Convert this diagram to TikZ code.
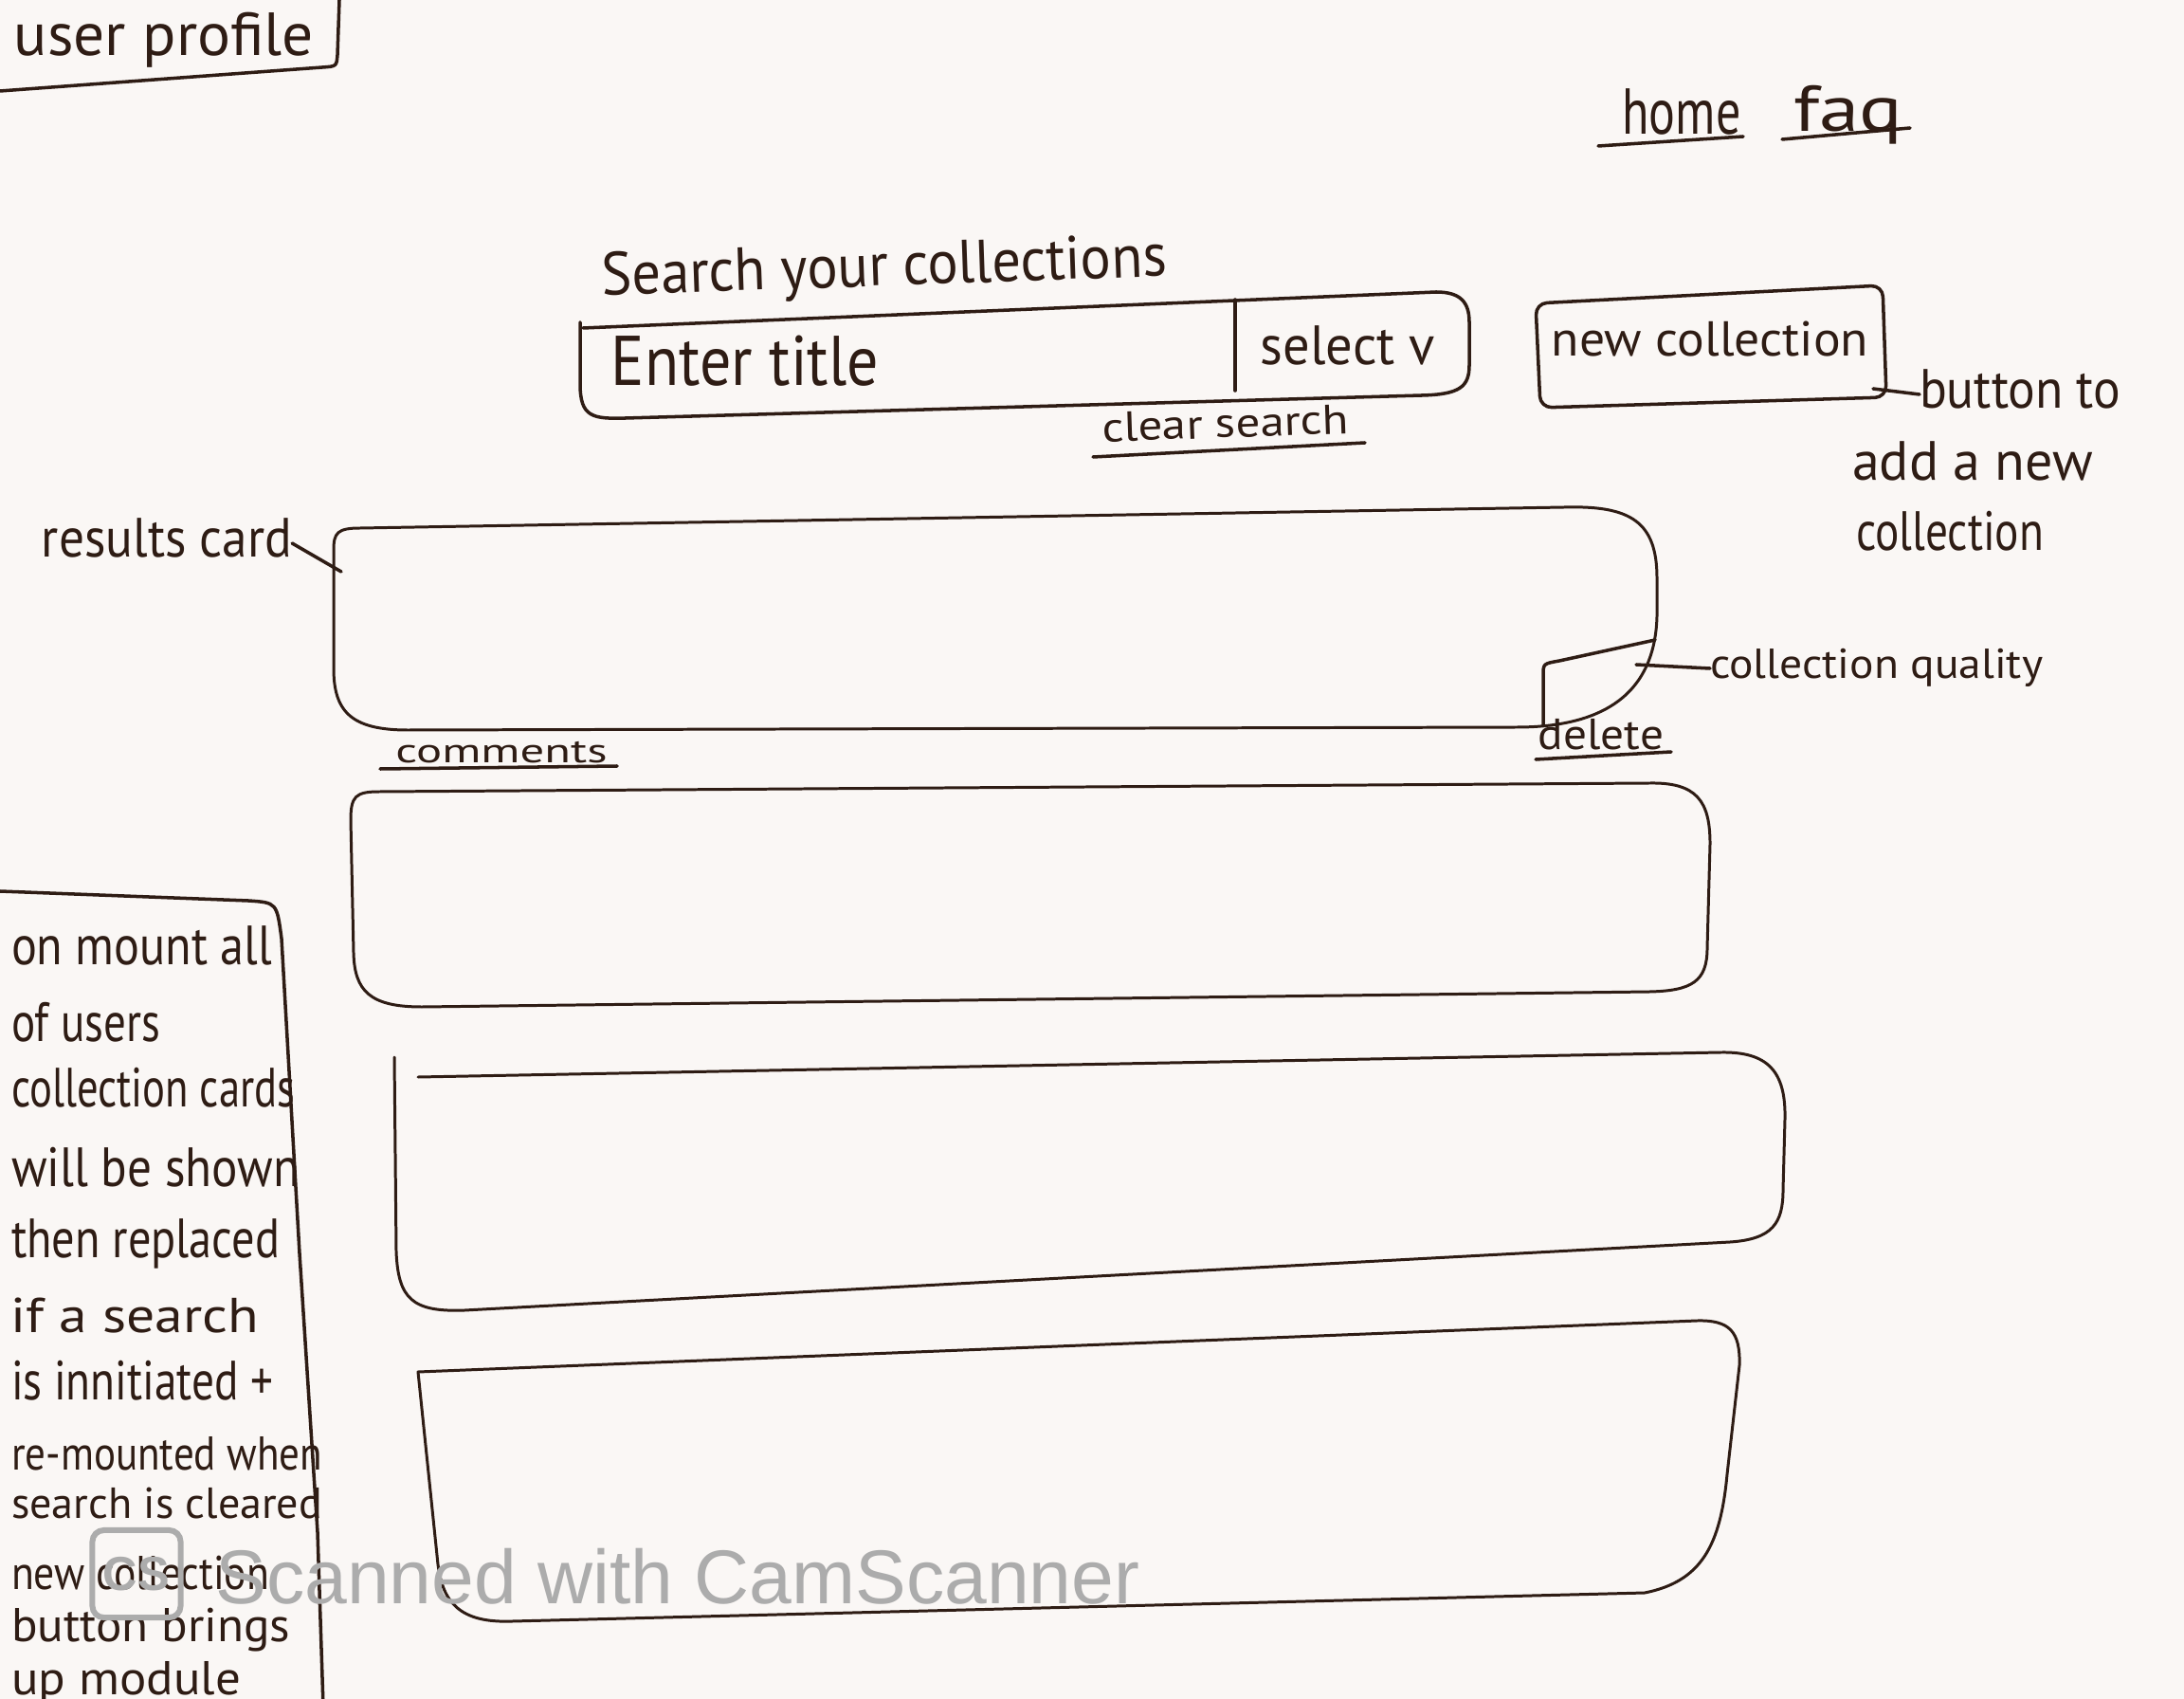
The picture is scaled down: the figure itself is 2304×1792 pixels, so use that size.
\documentclass[tikz,border=0pt]{standalone}
\usepackage{fontspec}
\usepackage{graphicx}
\setmainfont{PT Sans}
\newfontfamily\wmfont{Liberation Sans}
\definecolor{ink}{RGB}{46,28,20}
\definecolor{paper}{RGB}{250,247,245}
\definecolor{wmgray}{RGB}{172,172,172}
\newcommand\hw[3]{\resizebox*{#1}{#2}{\strut #3}}
\begin{document}
\begin{tikzpicture}[x=0.01cm,y=-0.01cm,
  pen/.style={draw=ink,line width=1pt,line cap=round,line join=round},
  cardpen/.style={draw=ink,line width=0.85pt,line cap=round,line join=round},
  lbl/.style={inner sep=0pt,outer sep=0pt,text=ink},
  notel/.style={lbl,anchor=west},
  wmark/.style={inner sep=0pt,text=wmgray,font=\wmfont}]
\fill[paper] (0,0) rectangle (2304,1792);
\useasboundingbox (0,0) rectangle (2304,1792);
\clip (0,0) rectangle (2304,1792);

% user profile
\node[lbl] (profile) at (173,43) {\hw{3.16cm}{0.77cm}{user profile}};
\draw[pen] (0,96) -- (340,71) .. controls (355,70) .. (356,58) -- (358,0);

% nav
\node[lbl] (home) at (1774,125) {\hw{1.25cm}{0.82cm}{home}};
\node[lbl] (faq) at (1950,122) {\hw{1.15cm}{0.82cm}{faq}};
\draw[pen] (1686,154) -- (1839,144);
\draw[pen] (1880,147) -- (2015,135);

% search
\node[lbl,rotate=2] (searchlbl) at (933,286) {\hw{5.96cm}{0.77cm}{Search your collections}};
\draw[pen] (612,340) -- (612,405) .. controls (612,440) and (625,442) .. (660,441) -- (1500,417)
  .. controls (1540,416) and (1550,408) .. (1550,385) -- (1550,340) .. controls (1550,318) and (1540,308) .. (1515,308) -- (615,346);
\draw[pen] (1303,316) -- (1303,412);
\node[lbl] (enter) at (786,389) {\hw{2.82cm}{0.89cm}{Enter title}};
\node[lbl] (select) at (1422,370) {\hw{1.84cm}{0.7cm}{select v}};
\node[lbl,rotate=2] (clear) at (1293,451) {\hw{2.6cm}{0.53cm}{clear search}};
\draw[pen] (1153,482) -- (1440,467);

% new collection
\draw[pen,rounded corners=0.12cm] (1620,320) -- (1986,301) -- (1990,419) -- (1625,430) -- cycle;
\node[lbl] (newc) at (1804,363) {\hw{3.34cm}{0.62cm}{new collection}};
\node[notel] (btn1) at (2025,416) {\hw{2.12cm}{0.7cm}{button to}};
\node[notel] (btn2) at (1954,492) {\hw{2.54cm}{0.7cm}{add a new}};
\node[notel] (btn3) at (1958,566) {\hw{1.98cm}{0.7cm}{collection}};
\coordinate (ncp) at (1976,410);
\draw[pen] (ncp) -- (btn1.west);

% results card
\node[notel] (rc) at (44,573) {\hw{2.64cm}{0.7cm}{results card}};
\coordinate (rcp) at (360,603);
\draw[pen] (rc.east) -- (rcp);
\draw[cardpen] (352,580) .. controls (352,562) and (356,557) .. (380,557) -- (1650,535)
  .. controls (1720,533) and (1748,550) .. (1748,610)
  -- (1748,640) .. controls (1750,725) and (1700,767) .. (1600,767) -- (430,770)
  .. controls (370,770) and (352,750) .. (352,705) -- cycle;
\draw[pen] (1628,765) -- (1628,712) .. controls (1628,700) .. (1645,697) -- (1746,675);
\node[notel] (cq) at (1804,705) {\hw{3.51cm}{0.53cm}{collection quality}};
\coordinate (cqp) at (1726,701);
\draw[pen] (cqp) -- (cq.west);
\node[lbl] (comm) at (529,796) {\hw{2.23cm}{0.43cm}{comments}};
\draw[pen] (401,811) -- (651,808);
\node[lbl] (del) at (1689,779) {\hw{1.32cm}{0.55cm}{delete}};
\draw[pen] (1620,801) -- (1763,793);

% other cards
\draw[cardpen] (370,865) .. controls (370,840) and (375,835) .. (400,835) -- (1740,826)
  .. controls (1790,825) and (1804,845) .. (1804,890)
  -- (1801,1000) .. controls (1801,1035) and (1785,1045) .. (1740,1046) -- (445,1062)
  .. controls (390,1062) and (374,1045) .. (373,1005) -- cycle;
\draw[cardpen] (416,1115) -- (418,1320) .. controls (420,1370) and (435,1384) .. (490,1382) -- (1825,1310)
  .. controls (1870,1307) and (1881,1290) .. (1881,1255) -- (1883,1180)
  .. controls (1884,1130) and (1865,1109) .. (1815,1110) -- (441,1136);
\draw[cardpen] (441,1447) -- (1790,1393) .. controls (1825,1392) and (1836,1405) .. (1835,1440) -- (1822,1555)
  .. controls (1815,1630) and (1795,1668) .. (1735,1680) -- (540,1710)
  .. controls (485,1712) and (467,1690) .. (462,1650) -- cycle;

% note box
\draw[pen] (0,940) -- (262,950) .. controls (292,952) .. (297,990) -- (316,1322) -- (335,1616) -- (341,1800);
\node[notel] (n1) at (12,1003) {\hw{2.75cm}{0.7cm}{on mount all}};
\node[notel] (n2) at (12,1084) {\hw{1.57cm}{0.7cm}{of users}};
\node[notel] (n3) at (12,1153) {\hw{2.99cm}{0.7cm}{collection cards}};
\node[notel] (n4) at (12,1237) {\hw{3.04cm}{0.7cm}{will be shown}};
\node[notel] (n5) at (12,1312) {\hw{2.83cm}{0.7cm}{then replaced}};
\node[notel] (n6) at (12,1393) {\hw{2.61cm}{0.62cm}{if a search}};
\node[notel] (n7) at (12,1462) {\hw{2.76cm}{0.7cm}{is innitiated +}};
\node[notel] (n8) at (12,1538) {\hw{3.28cm}{0.6cm}{re-mounted when}};
\node[notel] (n9) at (12,1590) {\hw{3.28cm}{0.55cm}{search is cleared}};
\node[notel] (n10) at (12,1664) {\hw{2.72cm}{0.6cm}{new collection}};
\node[notel] (n11) at (12,1719) {\hw{2.94cm}{0.6cm}{button brings}};
\node[notel] (n12) at (12,1775) {\hw{2.42cm}{0.6cm}{up module}};

% watermark
\node[wmark,draw=wmgray,line width=0.06cm,rounded corners=0.12cm,minimum width=0.93cm,minimum height=0.92cm]
  (cslogo) at (144,1660) {\resizebox{0.7cm}{!}{\bfseries CS}};
\node[wmark] (wmtext) at (715,1663) {\resizebox{9.74cm}{!}{Scanned with CamScanner}};
\end{tikzpicture}
\end{document}
